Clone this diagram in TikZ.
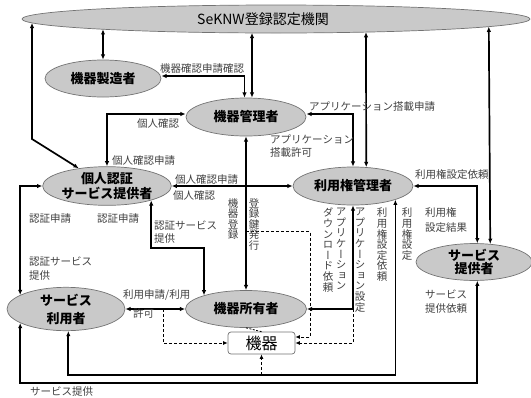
\documentclass[tikz,border=0pt]{standalone}
\usepackage{fontspec}
\setmainfont{Noto Sans CJK JP}
\newfontfamily\jpv[RawFeature=+vert]{Noto Sans CJK JP}
\usetikzlibrary{arrows.meta,shapes.geometric,calc}
\tikzset{ah/.tip={Latex[length=5.2pt,width=4.4pt]}}
\begin{document}
\begin{tikzpicture}[x=1pt,y=-1pt,
  ent/.style={ellipse, draw=black!55, fill=black!21, line width=0.7pt, inner sep=0pt,
    font=\fontsize{13}{15}\selectfont\bfseries, align=center},
  lab/.style={font=\fontsize{10.5}{13}\selectfont, text=black!75, inner sep=0pt, align=left},
  vlab/.style={font=\jpv\fontsize{10.5}{10.6}\selectfont, text=black!75, inner sep=0pt, align=center, anchor=north},
  conn/.style={line width=1.7pt},
  dbl/.style={conn, ah-ah},
  dsh/.style={line width=0.9pt, dash pattern=on 3pt off 2pt, -{Latex[length=4.5pt,width=4pt]}},
  dsl/.style={line width=0.8pt, dash pattern=on 2pt off 1.5pt}
]
\useasboundingbox (0,0) rectangle (531,397);

% entities
\node[ent, minimum width=508pt, minimum height=28pt, font=\fontsize{14}{16}\selectfont] (top) at (276,19) {\hspace*{-26pt}SeKNW登録認定機関};
\node[ent, minimum width=116pt, minimum height=37pt] (seizo) at (103,78.5) {機器製造者};
\node[ent, minimum width=120pt, minimum height=38pt] (kanri) at (246,117) {機器管理者};
\node[ent, minimum width=120pt, minimum height=38pt] (ninsho) at (107,186) {個人認証\\サービス提供者};
\node[ent, minimum width=120pt, minimum height=38pt] (riyouken) at (353,186) {利用権管理者};
\node[ent, minimum width=116pt, minimum height=34pt, font=\fontsize{13}{13.5}\selectfont\bfseries] (teikyo) at (474,262) {サービス\\提供者};
\node[ent, minimum width=118pt, minimum height=37pt, font=\fontsize{13}{18}\selectfont\bfseries] (riyosha) at (66,309) {サービス\\利用者};
\node[ent, minimum width=121pt, minimum height=37pt] (shoyu) at (246,309) {機器所有者};
\node[draw=black!55, fill=white, rounded corners=3pt, line width=0.7pt, minimum width=67pt, minimum height=22pt, inner sep=0pt, font=\fontsize{16}{18}\selectfont] (kiki) at (261.5,343) {機器};

% points on the border of the top ellipse
\coordinate (tA) at (32,22.9);
\coordinate (tB) at (103,29.25);
\coordinate (tD) at (252,32.9);
\coordinate (tG) at (366,32.1);
\coordinate (tL) at (488.8,26.6);
\coordinate (jc) at (0,248);
\coordinate (mb) at (0,383);
\coordinate (nb) at (0,375);

% solid connectors
\draw[dbl] (tA) -- (32,139) -- (ninsho);
\draw[dbl] (tB) -- (seizo.north);
\draw[dbl] ([yshift=2.5pt]seizo.east) -| ([xshift=-1.5pt]kanri.north);
\draw[dbl] (tD) -- (tD |- kanri.north);
\draw[dbl] ([yshift=3pt]kanri.west) -| (ninsho.north);
\draw[dbl] ([yshift=3pt]kanri.east) -| (riyouken.north);
\draw[dbl] (tG) -- (riyouken.55);
\draw[dbl] (ninsho.east) -- (riyouken.west);
\draw[dbl] (kanri.south) -- (shoyu.north);
\draw[dbl] (ninsho.-18) |- (shoyu.162 |- jc) -- (shoyu.162);
\draw[dbl] (riyouken.east) -| (teikyo.80);
\draw[dbl] (tL) -- (teikyo.48);
\draw[dbl] (teikyo.-80) |- (riyosha.197 |- mb) -- (riyosha.197);
\draw[dbl] (riyouken.-18) |- (riyosha.-84 |- nb) -- (riyosha.-84);
\draw[dbl] (riyouken.south) |- (shoyu.east);
\draw[dbl] (ninsho.west) -| (riyosha.163);
\draw[dbl] (riyosha.east) -- (shoyu.west);

% dashed connectors to the device
\coordinate (q1) at ($(riyosha.east)!0.63!(shoyu.west)$);
\coordinate (i1) at ($(kanri.south)!0.62!(shoyu.north)$);
\coordinate (d1) at (310,337);
\draw[dsh] (q1) |- (kiki.west);
\draw[dsh] (i1) -| (d1) -- (d1 -| kiki.east);
\draw[dsh] (riyouken.south |- shoyu.east) |- (kiki.east);
\draw[dsh] (kiki.south |- nb) -- (kiki.south);
\draw[dsl] (shoyu.south) -- (kiki.north);

% horizontal labels
\node[lab, anchor=west] (l1) at (160,69) {機器確認申請確認};
\node[lab, anchor=west] (l2) at (309,107) {アプリケーション搭載申請};
\node[lab] (l3) at (158,124) {個人確認};
\node[lab, anchor=west] (l4) at (112,161) {個人確認申請};
\node[lab, anchor=north west] (l5) at (270,135) {アプリケーション\\搭載許可};
\node[lab, anchor=west] (l6) at (175,180) {個人確認申請};
\node[lab, anchor=west] (l7) at (173,196) {個人確認};
\node[lab, anchor=west] (l8) at (415,175) {利用権設定依頼};
\node[lab, anchor=north west, font=\fontsize{10.5}{15}\selectfont] (l9) at (425,207) {利用権\\設定結果};
\node[lab, anchor=west] (l10) at (29,219) {認証申請};
\node[lab, anchor=west] (l11) at (97,219) {認証申請};
\node[lab, anchor=north west] (l12) at (154,221) {認証サービス\\提供};
\node[lab, anchor=north west, font=\fontsize{10.5}{13.5}\selectfont] (l15) at (29,257) {認証サービス\\提供};
\node[lab, anchor=west] (l16) at (123,295) {利用申請/利用};
\node[lab, anchor=west] (l17) at (133,313) {許可};
\node[lab, anchor=north west, font=\fontsize{10.5}{14}\selectfont] (l22) at (425,290) {サービス\\提供依頼};
\node[lab, anchor=west] (l23) at (30,392) {サービス提供};

% vertical labels
\node[vlab] (v1) at (233,198) {機\\器\\登\\録};
\node[vlab] (v2) at (254,198) {登\\録\\鍵\\発\\行};
\node[vlab] (v3) at (341,208) {ア\\プ\\リ\\ケ\\ー\\シ\\ョ\\ン};
\node[vlab] (v4) at (328,208) {ダ\\ウ\\ン\\ロ\\ー\\ド\\依\\頼};
\node[vlab] (v5) at (360,208) {ア\\プ\\リ\\ケ\\ー\\シ\\ョ\\ン\\設\\定};
\node[vlab] (v6) at (382,208) {利\\用\\権\\設\\定\\依\\頼};
\node[vlab] (v7) at (407,208) {利\\用\\権\\設\\定};
\end{tikzpicture}
\end{document}
